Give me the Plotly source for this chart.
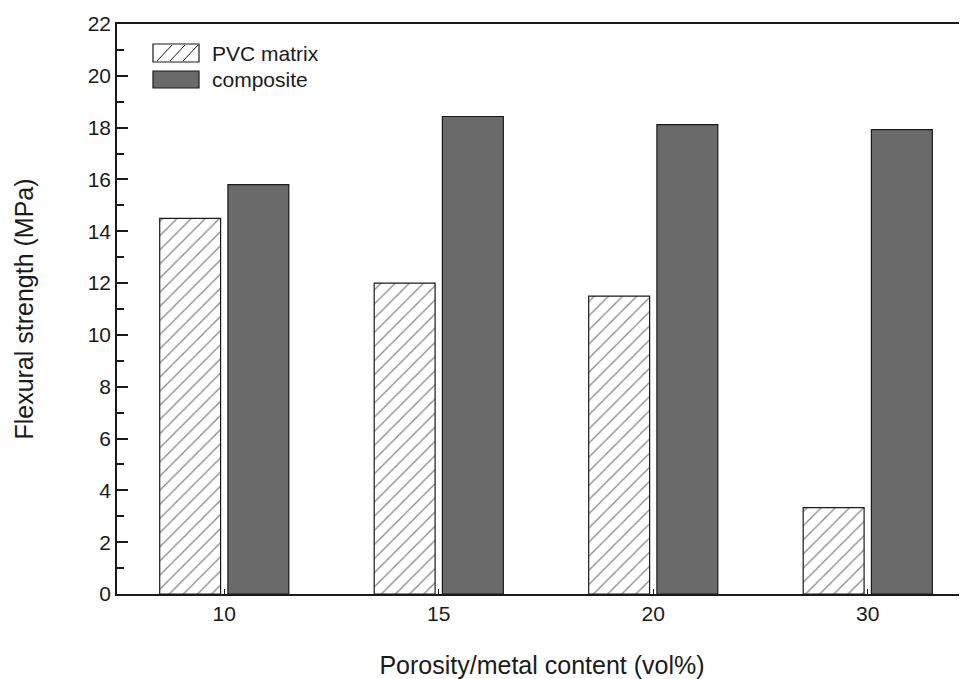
import plotly.graph_objects as go

# ---- data ----
categories = ["10", "15", "20", "30"]
pvc_matrix = [14.5, 12.0, 11.5, 3.33]
composite = [15.8, 18.43, 18.12, 17.92]
y_ticks = list(range(0, 23, 2))
series_names = ["PVC matrix", "composite"]

# ---- layout constants (page has an 8px body margin) ----
PAGE_OFF = 8
W, H = 967 - PAGE_OFF, 679 - PAGE_OFF
ML, MT, MR = 117 - PAGE_OFF, 24 - PAGE_OFF, 0
PLOT_BOTTOM = 594 - PAGE_OFF
MB = H - PLOT_BOTTOM
PW, PH = W - ML - MR, H - MT - MB
PX_PER_CAT = 214.5
x_hi = (PW / PX_PER_CAT) - 0.5
FONT = "Liberation Sans, Arial, Helvetica, sans-serif"
INK = "#1a1a1a"
GREY = "#6a6a6a"

xs = list(range(len(categories)))

fig = go.Figure()
fig.add_trace(go.Bar(
    x=xs, y=pvc_matrix, name=series_names[0],
    width=0.284, offset=-0.301,
    marker=dict(color="white", line=dict(color=INK, width=1.2),
                pattern=dict(shape="/", size=10, solidity=0.13,
                             fgcolor="#111111", bgcolor="white", fillmode="overlay")),
    showlegend=False,
))
fig.add_trace(go.Bar(
    x=xs, y=composite, name=series_names[1],
    width=0.284, offset=0.017,
    marker=dict(color=GREY, line=dict(color=INK, width=1.2)),
    showlegend=False,
))
# invisible helper trace for right-side mirrored ticks
fig.add_trace(go.Scatter(x=[xs[0]], y=[0], yaxis="y2", mode="markers",
                         marker=dict(opacity=0), showlegend=False, hoverinfo="skip"))


def px_to_paper(px, py):
    # px, py in page pixels of the reference
    px -= PAGE_OFF
    py -= PAGE_OFF
    return (px - ML) / PW, (MT + PH - py) / PH


shapes = []
annotations = []
# manual legend
x0, y0 = px_to_paper(153, 62)
x1, y1 = px_to_paper(199, 44)
shapes.append(dict(type="rect", xref="paper", yref="paper", x0=x0, y0=y0, x1=x1, y1=y1,
                   line=dict(color=INK, width=1.2), fillcolor="white"))
for sx in (157, 170, 183):
    a0, b0 = px_to_paper(sx, 61)
    a1, b1 = px_to_paper(sx + 15, 45)
    shapes.append(dict(type="line", xref="paper", yref="paper", x0=a0, y0=b0, x1=a1, y1=b1,
                       line=dict(color=INK, width=1)))
x0, y0 = px_to_paper(153, 88)
x1, y1 = px_to_paper(199, 71)
shapes.append(dict(type="rect", xref="paper", yref="paper", x0=x0, y0=y0, x1=x1, y1=y1,
                   line=dict(color=INK, width=1.2), fillcolor=GREY))
for name, py in zip(series_names, (53, 80)):
    ax, ay = px_to_paper(210, py)
    annotations.append(dict(text=name, xref="paper", yref="paper", x=ax, y=ay,
                            xanchor="left", yanchor="middle", showarrow=False,
                            font=dict(family=FONT, size=21, color=INK)))

fig.update_layout(
    width=W, height=H,
    margin=dict(l=ML, r=MR, t=MT, b=MB, autoexpand=False),
    paper_bgcolor="white", plot_bgcolor="white",
    font=dict(family=FONT, size=21, color=INK),
    barmode="overlay",
    shapes=shapes, annotations=annotations,
    xaxis=dict(
        range=[-0.5, x_hi], tickmode="array", tickvals=xs, ticktext=categories,
        showline=True, linecolor=INK, linewidth=1.5, mirror=True,
        ticks="inside", ticklen=5, tickwidth=1.2, tickcolor=INK,
        showgrid=False, zeroline=False,
        tickfont=dict(size=21),
        title=dict(text="Porosity/metal content (vol%)", font=dict(size=25), standoff=33),
    ),
    yaxis=dict(
        range=[0, 22], tickmode="array", tickvals=y_ticks,
        showline=True, linecolor=INK, linewidth=1.5, mirror=False,
        ticks="inside", ticklen=11, tickwidth=1.5, tickcolor=INK,
        minor=dict(dtick=1, ticks="inside", ticklen=7, tickwidth=1.5, tickcolor=INK, showgrid=False),
        showgrid=False, zeroline=False,
        tickfont=dict(size=21),
        title=dict(text="Flexural strength (MPa)", font=dict(size=25), standoff=47),
    ),
    yaxis2=dict(
        overlaying="y", side="right", anchor="x", range=[0, 22],
        tickmode="array", tickvals=y_ticks[1:-1],
        ticks="inside", ticklen=4, tickwidth=1.5, tickcolor=INK,
        showticklabels=False, showline=False, showgrid=False, zeroline=False,
    ),
)

fig.write_html("out.html")
